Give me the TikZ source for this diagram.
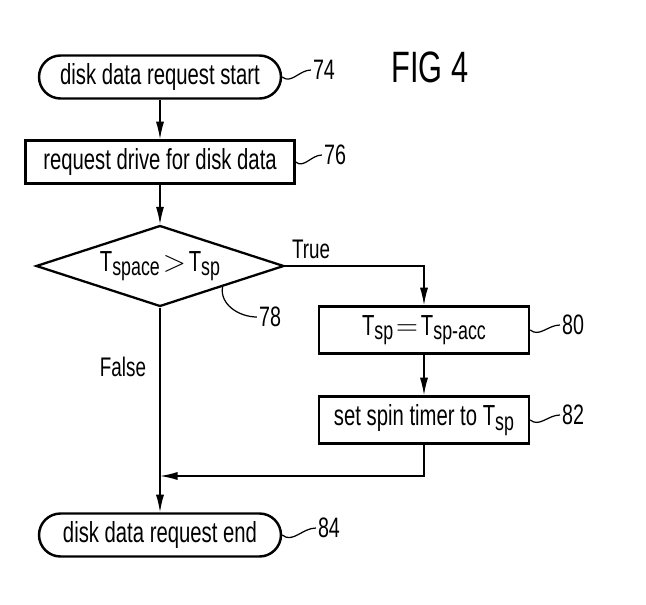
\documentclass[tikz,border=0pt]{standalone}
\usepackage{fontspec}
\setmainfont{Liberation Sans}[FakeStretch=0.7]
\usetikzlibrary{arrows.meta,shapes.geometric}

\newcommand{\Tsub}[1]{T\raisebox{-0.3ex}{\fontsize{14.5}{15}\selectfont #1}}

\tikzset{
terminal/.style={draw,line width=1.4pt,rounded corners=0.43cm,minimum width=4.84cm,minimum height=0.86cm,inner sep=2pt,font=\fontsize{16.5}{18}\selectfont},
process/.style={draw,line width=1.4pt,inner sep=2pt,font=\fontsize{16.5}{18}\selectfont},
decision/.style={draw,diamond,aspect=3.06,inner sep=0pt,minimum width=4.96cm,minimum height=1.62cm,line width=1.3pt,font=\fontsize{16.5}{18}\selectfont},
refnum/.style={inner sep=1pt,font=\fontsize{16}{18}\selectfont},
branch/.style={inner sep=1pt,font=\fontsize{15.3}{17}\selectfont},
flowarrow/.style={-{Latex[length=10pt,width=4.6pt]},line width=0.8pt},
leader/.style={line width=0.7pt}
}

\begin{document}
\begin{tikzpicture}[x=0.02cm,y=-0.02cm]
\useasboundingbox (0,0) rectangle (646,605); % edit here for the page size

\node[terminal] (begin) at (160,77) {disk data request start};
\node[process,minimum width=5.38cm,minimum height=0.86cm] (request) at (160,162) {request drive for disk data};
\node[decision] (check) at (160,266) {\Tsub{space}\kern0.1em${>}$\kern0.1em\Tsub{sp}};
\node[process,minimum width=4.2cm,minimum height=0.94cm] (update) at (424,330) {\Tsub{sp}\kern0.1em${=}$\kern0.1em\Tsub{sp-acc}};
\node[process,minimum width=4.2cm,minimum height=0.94cm] (timer) at (424,420) {set spin timer to \Tsub{sp}};
\node[terminal] (finish) at (160,535) {disk data request end};
\coordinate (merge) at (160,476);

\node[] (fig) at (430,67) {\fontsize{25}{28}\selectfont FIG 4};
\node[branch] (true) at (311,249) {True};
\node[branch] (false) at (123,367) {False};

% edit here for the flow lines
\draw[flowarrow] (begin) -- (request);
\draw[flowarrow] (request) -- (check);
\draw[flowarrow] (check.east) -| (update.north);
\draw[flowarrow] (update) -- (timer);
\draw[flowarrow] (timer.south) |- (merge);
\draw[flowarrow] (check.south) -- (finish.north);

% edit here for the reference numbers
\foreach \lbl/\px/\py in {74/324/70,76/335/155,78/270/317,80/573/325,82/573/415,84/329/528}
\node[refnum] (n\lbl) at (\px,\py) {\lbl};
\foreach \nd/\lbl in {begin/74,request/76,update/80,timer/82,finish/84}
\draw[leader] (\nd.east) to[out=-40,in=180] (n\lbl.west);
\draw[leader] (check.south east) to[out=-100,in=180] (n78.west);

\end{tikzpicture}
\end{document}
